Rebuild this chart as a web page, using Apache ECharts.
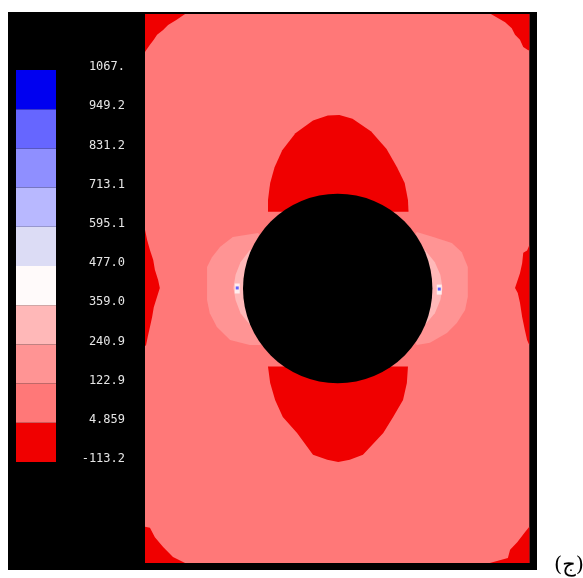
<!DOCTYPE html>
<html>
<head>
<meta charset="utf-8">
<script src="https://cdn.jsdelivr.net/npm/echarts@6/dist/echarts.min.js"></script>
<style>
  html, body { margin: 0; padding: 0; background: #fff; }
  #main { width: 583px; height: 578px; }
</style>
</head>
<body>
<div id="main"></div>
<script>
// contour levels, bottom to top
const levelLabels = ['-113.2', '4.859', '122.9', '240.9', '359.0', '477.0', '595.1', '713.1', '831.2', '949.2', '1067.'];
const levelColors = ['#f00000', '#ff7878', '#ff9494', '#ffb8b8', '#fffafa', '#dcdcf5', '#b8b8ff', '#8f8fff', '#6666ff', '#0000f0'];

// plate 70 x 100, hole in the middle
const plate = [[0, 0], [70, 0], [70, 100], [0, 100]];
const hole = [35.1, 50.0, 17.25];

// regions below 4.859 (level 0)
const redTopLeft = [[0, 100], [7.3, 100], [5.7, 98.9], [4.2, 98.0], [3.3, 97.1], [2.2, 96.2], [1.6, 95.3], [0.9, 94.4], [0.2, 93.4], [0, 93.1]];
const redTopRight = [[63.0, 100], [70, 100], [70, 93.4], [69.8, 93.4], [68.9, 94.0], [68.3, 95.3], [67.4, 96.2], [66.8, 97.4], [65.6, 98.5]];
const redBottomLeft = [[0, 0], [7.3, 0], [5.1, 1.1], [3.3, 2.9], [1.8, 4.7], [0.9, 6.4], [0, 6.6]];
const redBottomRight = [[62.8, 0], [70, 0], [70, 6.6], [69.2, 5.6], [67.8, 3.8], [66.5, 2.4], [66.1, 0.9]];
const redLeftEdge = [[0, 60.7], [0.4, 58.8], [0.9, 57.0], [1.5, 55.2], [1.8, 53.4], [2.4, 51.5], [2.7, 50.1], [2.2, 48.5], [1.6, 46.6], [1.3, 44.8], [0.9, 43.0], [0.5, 41.2], [0.2, 39.7], [0, 39.5]];
const redRightEdge = [[70, 57.9], [69.6, 56.9], [68.9, 56.5], [68.7, 54.6], [68.3, 52.8], [67.4, 50.1], [67.9, 49.2], [68.3, 47.4], [68.7, 44.8], [69.2, 42.4], [69.6, 40.6], [70, 39.7]];
const redTopCap = [[22.4, 64.0], [22.4, 66.1], [22.8, 69.2], [23.6, 72.1], [25.0, 75.2], [27.4, 78.3], [30.6, 80.6], [33.3, 81.5], [35.4, 81.6], [37.8, 80.9], [41.2, 78.6], [44.0, 75.4], [45.9, 72.1], [47.3, 69.2], [47.9, 66.1], [48.0, 64.0]];
const redBottomCap = [[22.4, 35.8], [22.8, 32.8], [23.7, 29.7], [25.1, 26.6], [27.7, 23.7], [30.6, 19.7], [33.2, 18.8], [35.2, 18.4], [37.3, 18.8], [39.7, 19.7], [43.4, 23.7], [45.2, 26.6], [47.0, 29.7], [47.7, 32.8], [47.9, 35.8]];

// stress concentration beside the hole (levels 2 and 3)
const paleLeft = [[20.6, 60.1], [16.0, 59.4], [13.7, 57.6], [12.2, 55.7], [11.3, 53.9], [11.3, 47.9], [11.8, 45.5], [13.1, 43.0], [15.5, 40.6], [19.1, 39.7], [21.0, 39.7], [28.2, 50.1]];
const paleRight = [[49.5, 60.3], [52.5, 59.4], [55.9, 58.3], [57.7, 56.6], [58.8, 53.9], [58.8, 48.5], [58.3, 46.1], [56.8, 43.7], [55.0, 41.9], [51.9, 40.1], [49.5, 39.7], [42.8, 50.1]];
const lighterLeft = [[19.1, 57.0], [17.4, 54.8], [16.5, 52.5], [16.1, 50.1], [16.5, 47.9], [17.4, 45.5], [19.1, 43.4], [28.2, 50.1]];
const lighterRight = [[51.0, 57.0], [52.8, 54.8], [53.8, 52.5], [54.2, 50.1], [53.8, 47.9], [52.8, 45.5], [51.0, 43.4], [42.8, 50.1]];

// peak points at the hole edge
const peakWhite = [[16.8, 50.0], [53.6, 49.8]];
const peakBlue = [[16.8, 50.1], [53.6, 49.9]];

const regions = [
    [plate, 1],
    [redTopLeft, 0], [redTopRight, 0], [redBottomLeft, 0], [redBottomRight, 0],
    [redLeftEdge, 0], [redRightEdge, 0], [redTopCap, 0], [redBottomCap, 0],
    [paleLeft, 2], [paleRight, 2], [lighterLeft, 3], [lighterRight, 3]
];

var myChart = echarts.init(document.getElementById('main'));

var option = {
    backgroundColor: '#fff',
    animation: false,
    graphic: [
        {
            type: 'rect', z: -10,
            shape: { x: 8, y: 12, width: 529, height: 558 },
            style: { fill: '#000' }
        }
    ],
    title: {
        text: '(ج)',
        left: 549, top: 550,
        textStyle: { fontFamily: 'DejaVu Serif, DejaVu Sans', fontSize: 21, fontWeight: 'normal', color: '#000' }
    },
    grid: [
        { left: 16, top: 70, width: 40, height: 392 },
        { left: 145, top: 14, width: 384.3, height: 549 }
    ],
    xAxis: [
        { gridIndex: 0, type: 'value', min: 0, max: 1, show: false },
        { gridIndex: 1, type: 'value', min: 0, max: 70, show: false }
    ],
    yAxis: [
        {
            gridIndex: 0, type: 'value', min: 0, max: 10, interval: 1, position: 'right',
            axisLine: { show: false }, axisTick: { show: false }, splitLine: { show: false },
            axisLabel: {
                showMinLabel: true, showMaxLabel: true,
                align: 'right', margin: 69, verticalAlign: 'bottom', lineHeight: 6,
                color: '#e6e6e6', fontFamily: 'DejaVu Sans Mono', fontSize: 12,
                formatter: function (v) { return levelLabels[v]; }
            }
        },
        { gridIndex: 1, type: 'value', min: 0, max: 100, show: false }
    ],
    series: [
        {
            // colour key
            type: 'custom', xAxisIndex: 0, yAxisIndex: 0,
            data: levelColors.map(function (c, i) { return [i]; }),
            renderItem: function (params, api) {
                var i = api.value(0);
                var p0 = api.coord([0, i + 1]);
                var p1 = api.coord([1, i]);
                return {
                    type: 'rect',
                    shape: { x: p0[0], y: p0[1], width: p1[0] - p0[0], height: p1[1] - p0[1] },
                    style: { fill: levelColors[i] }
                };
            }
        },
        {
            // contour bands
            type: 'custom', xAxisIndex: 1, yAxisIndex: 1,
            data: regions.map(function (r, i) { return [i]; }),
            renderItem: function (params, api) {
                var r = regions[params.dataIndex];
                var pts = r[0].map(function (p) { return api.coord(p); });
                return {
                    type: 'polygon',
                    shape: { points: pts },
                    style: { fill: levelColors[r[1]] }
                };
            }
        },
        {
            // hole
            type: 'custom', xAxisIndex: 1, yAxisIndex: 1,
            data: [hole],
            renderItem: function (params, api) {
                var c = api.coord([api.value(0), api.value(1)]);
                var rr = api.size([api.value(2), 0])[0];
                return {
                    type: 'circle',
                    shape: { cx: c[0], cy: c[1], r: rr },
                    style: { fill: '#000' }
                };
            }
        },
        {
            type: 'scatter', xAxisIndex: 1, yAxisIndex: 1,
            data: peakWhite, symbol: 'rect', symbolSize: [5, 10],
            itemStyle: { color: '#fffafa' }, silent: true
        },
        {
            type: 'scatter', xAxisIndex: 1, yAxisIndex: 1,
            data: peakBlue, symbol: 'rect', symbolSize: 3,
            itemStyle: { color: '#4040ff' }, silent: true
        }
    ]
};

myChart.setOption(option);
</script>
</body>
</html>
